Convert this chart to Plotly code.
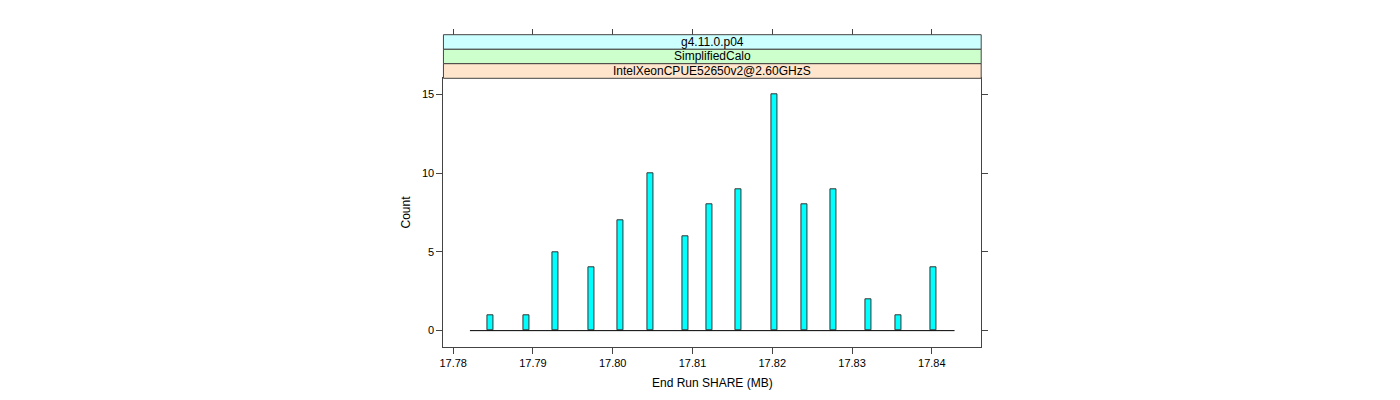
import plotly.graph_objects as go

# ---- data ----
bin_centers = [17.78473, 17.78919, 17.79288, 17.79735, 17.80098, 17.80473, 17.80915,
               17.81210, 17.81581, 17.82023, 17.82398, 17.82766, 17.83210, 17.83579, 17.84023]
counts = [1, 1, 5, 4, 7, 10, 6, 8, 9, 15, 8, 9, 2, 1, 4]
hist_range = [17.7821, 17.84285]   # extent of the histogram (zero-height bins)
x_ticks = [17.78, 17.79, 17.80, 17.81, 17.82, 17.83, 17.84]
x_tick_labels = ["17.78", "17.79", "17.80", "17.81", "17.82", "17.83", "17.84"]
y_ticks = [0, 5, 10, 15]
strip_labels = ["g4.11.0.p04", "SimplifiedCalo", "IntelXeonCPUE52650v2@2.60GHzS"]
strip_colors = ["#CCFFFF", "#CCFFCC", "#FFE5CC"]

W, H = 1400, 400
px_left, px_right = 440.7, 980.0
px_top, px_bottom = 78.3, 346.7
strip_px = [34.7, 49.3, 63.7, 78.3]
x_range = [17.77878, 17.84619]
y_range = [-1.02, 16.02]
bar_width = 0.00075
FONT = "Liberation Sans, Arial, sans-serif"
LINE = "#444444"

fig = go.Figure()
fig.add_trace(go.Scatter(x=hist_range, y=[0, 0], mode="lines",
                         line=dict(color="black", width=1), showlegend=False,
                         hoverinfo="skip"))
fig.add_trace(go.Bar(x=bin_centers, y=counts, width=bar_width,
                     marker=dict(color="#00FFFF", line=dict(color="#333333", width=1)),
                     showlegend=False))

xd = [px_left / W, px_right / W]
yd = [1 - px_bottom / H, 1 - px_top / H]

fig.update_layout(
    width=W, height=H,
    margin=dict(l=0, r=0, t=0, b=0),
    paper_bgcolor="white", plot_bgcolor="white",
    font=dict(family=FONT, size=11, color="black"),
    bargap=0,
    xaxis=dict(domain=xd, range=x_range, tickvals=x_ticks, ticktext=x_tick_labels,
               ticks="outside", ticklen=6, tickcolor=LINE, showline=True, linecolor=LINE,
               linewidth=1, mirror=True, showgrid=False, zeroline=False,
               title=dict(text="End Run SHARE (MB)", font=dict(size=12), standoff=10)),
    xaxis2=dict(overlaying="x", anchor="free", position=1 - strip_px[0] / H, side="top",
                range=x_range, tickvals=x_ticks, ticks="outside", ticklen=6, tickcolor=LINE,
                showticklabels=False, showline=False, showgrid=False, zeroline=False,
                domain=xd),
    yaxis=dict(domain=yd, range=y_range, tickvals=y_ticks, ticks="outside", ticklen=6,
               tickcolor=LINE, showline=True, linecolor=LINE, linewidth=1, mirror="ticks",
               showgrid=False, zeroline=False,
               title=dict(text="Count", font=dict(size=12), standoff=8)),
)
# invisible trace so that the top tick axis renders
fig.add_trace(go.Scatter(x=[x_range[0]], y=[0], xaxis="x2", mode="markers",
                         marker=dict(opacity=0), showlegend=False, hoverinfo="skip"))

for i, (lab, col) in enumerate(zip(strip_labels, strip_colors)):
    y0 = 1 - strip_px[i + 1] / H
    y1 = 1 - strip_px[i] / H
    fig.add_shape(type="rect", xref="paper", yref="paper", x0=xd[0], x1=xd[1], y0=y0, y1=y1,
                  fillcolor=col, line=dict(color=LINE, width=1), layer="above")
    fig.add_annotation(xref="paper", yref="paper", x=(xd[0] + xd[1]) / 2, y=(y0 + y1) / 2,
                       text=lab, showarrow=False, font=dict(size=12, color="black"),
                       xanchor="center", yanchor="middle")

fig.write_html("out.html")
